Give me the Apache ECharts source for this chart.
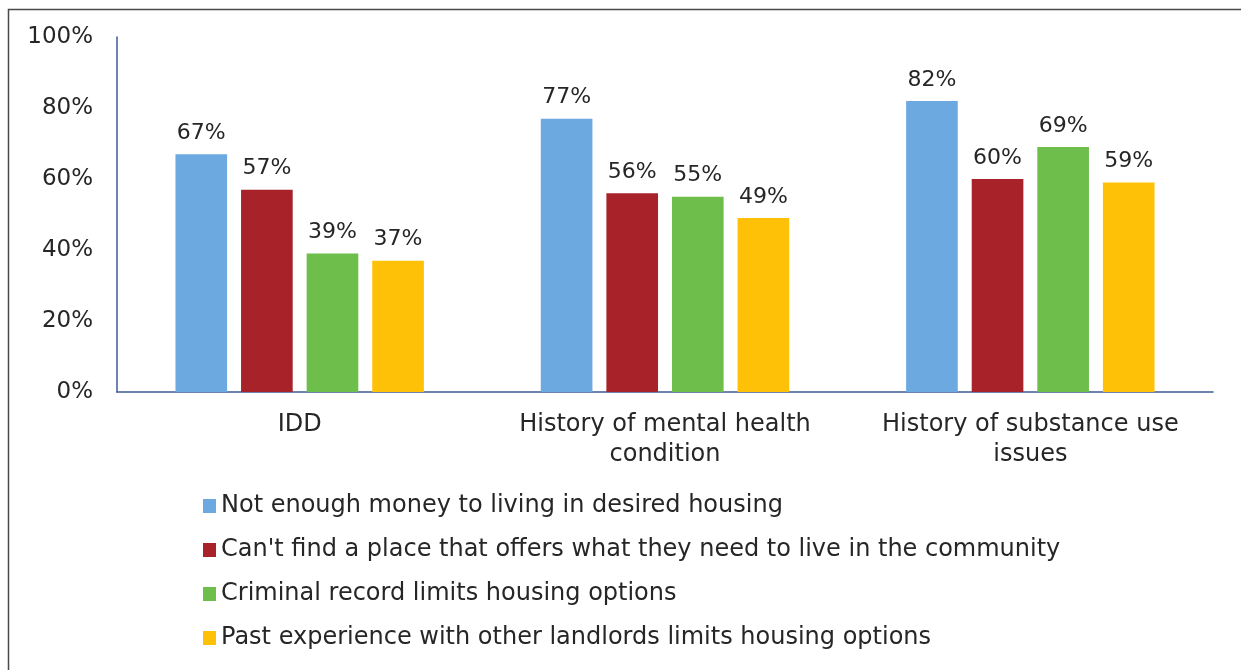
<!DOCTYPE html>
<html>
<head>
<meta charset="utf-8">
<script src="https://cdn.jsdelivr.net/npm/echarts@6/dist/echarts.min.js"></script>
<style>
html, body { margin: 0; padding: 0; background: #fff; }
#container { width: 1241px; height: 670px; }
</style>
</head>
<body>
<div id="container"></div>
<script>
var categories = ['IDD', 'History of mental health\ncondition', 'History of substance use\nissues'];
var seriesNames = [
    'Not enough money to living in desired housing',
    "Can't find a place that offers what they need to live in the community",
    'Criminal record limits housing options',
    'Past experience with other landlords limits housing options'
];
var moneyValues = [67, 77, 82];
var placeValues = [57, 56, 60];
var criminalValues = [39, 55, 69];
var landlordValues = [37, 49, 59];
var yTicks = [0, 20, 40, 60, 80, 100];

var colors = ['#6CA9E0', '#A8222A', '#6DBE4A', '#FFC107'];
var font = 'DejaVu Sans, Verdana, sans-serif';
var txt = '#262626';

var dom = document.getElementById('container');
var myChart = echarts.init(dom);

var allValues = [moneyValues, placeValues, criminalValues, landlordValues];
var series = allValues.map(function (vals, i) {
    return {
        name: seriesNames[i],
        type: 'bar',
        data: vals,
        barGap: '27%',
        barCategoryGap: '32%',
        itemStyle: { color: colors[i] },
        label: {
            show: true,
            position: 'top',
            distance: 10,
            formatter: '{c}%',
            fontFamily: font,
            fontSize: 22,
            color: txt
        }
    };
});

var option = {
    animation: false,
    color: colors,
    graphic: [{
        type: 'rect',
        shape: { x: 8.5, y: 9.5, width: 1260, height: 700 },
        style: { fill: 'none', stroke: '#4a4a4a', lineWidth: 1.5 },
        silent: true
    }],
    grid: { left: 117, right: 28, top: 37, bottom: 278 },
    legend: {
        orient: 'vertical',
        left: 203,
        top: 494,
        padding: 0,
        itemWidth: 13,
        itemHeight: 14,
        itemGap: 20,
        icon: 'rect',
        textStyle: { fontFamily: font, fontSize: 24, lineHeight: 24, color: txt },
        data: seriesNames
    },
    xAxis: {
        type: 'category',
        data: categories,
        axisLine: { show: true, lineStyle: { color: '#3F5B96', width: 1.5 } },
        axisTick: { show: false },
        axisLabel: {
            fontFamily: font, fontSize: 24, color: txt,
            margin: 18, lineHeight: 30, interval: 0
        }
    },
    yAxis: {
        type: 'value',
        min: yTicks[0],
        max: yTicks[yTicks.length - 1],
        interval: 20,
        axisLine: { show: true, lineStyle: { color: '#3F5B96', width: 1.5 } },
        axisTick: { show: false },
        splitLine: { show: false },
        axisLabel: {
            fontFamily: font, fontSize: 23, color: txt, margin: 24,
            formatter: '{value}%'
        }
    },
    series: series
};
myChart.setOption(option, true);
</script>
</body>
</html>
